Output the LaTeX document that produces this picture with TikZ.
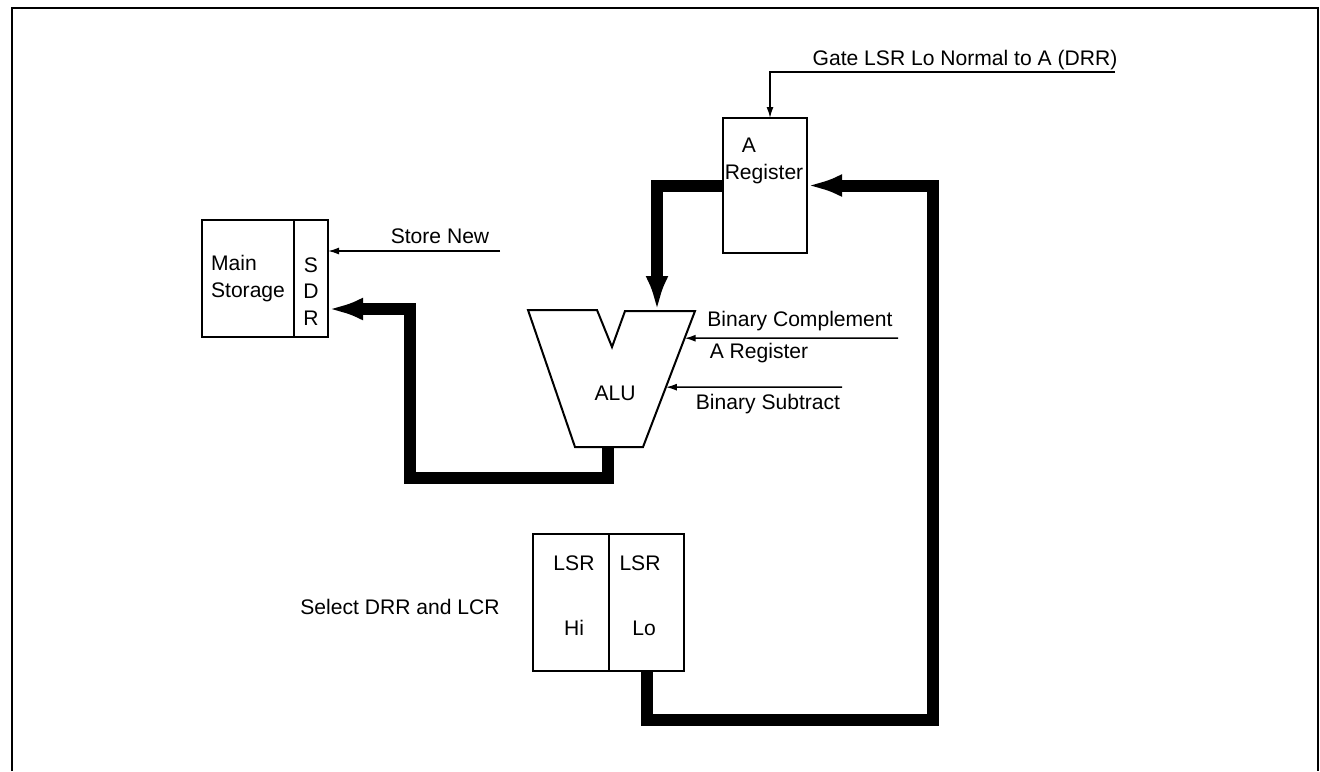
\documentclass[tikz,border=0pt]{standalone}
\usepackage{fontspec}
\setmainfont{Liberation Sans}
\usetikzlibrary{arrows.meta,calc}

\begin{document}
\begin{tikzpicture}[x=0.2mm, y=-0.2mm, font=\fontsize{12}{15}\selectfont,
  box/.style={draw, line width=0.4mm, inner sep=0pt, outer sep=0pt},
  sig/.style={line width=0.3mm, -{Latex[length=2.2mm,width=1.4mm]}},
  bus/.style={line width=2.4mm, line join=miter, -{Latex[length=7mm,width=4.6mm]}}]
\useasboundingbox (0,0) rectangle (1320,771);
\draw[line width=0.4mm] (12,771) -- (12,8) -- (1318,8) -- (1318,771);
% storage and its data register
\node[box, minimum width=18.4mm, minimum height=23.4mm, align=left] (ms) at (248,278.5) {Main\\Storage};
\node[box, minimum width=6.8mm, minimum height=23.4mm] (sdr) at (311,278.5) {};
\node[align=center] (sdrlbl) at (311,291.5) {S\\D\\R};
% A register
\node[box, minimum width=16.8mm, minimum height=27mm] (areg) at (765,185.5) {};
\node[align=left] (areglbl) at (764,161) {\hspace*{3.4mm}A\\Register};
% local storage registers
\node[box, minimum width=15.2mm, minimum height=27.4mm] (hi) at (571,602.5) {};
\node[box, minimum width=15mm, minimum height=27.4mm] (lo) at (646.5,602.5) {};
\node[align=center] (hilbl) at (574,595.5) {LSR\\[7.7mm]Hi};
\node[align=center] (lolbl) at (640,595.5) {LSR\\[7.7mm]\hspace*{1.6mm}Lo};
\node (sellbl) at (400,607) {Select DRR and LCR};
% ALU outline
\coordinate (alutl) at (528,310);
\coordinate (alutr) at (695,311);
\coordinate (alubr) at (643,447);
\coordinate (alubl) at (575,447);
\draw[line width=0.4mm] (alutl) -- (597,310) -- (612,347) -- (625,311) -- (alutr) -- (alubr) -- (alubl) -- cycle;
\node (alu) at (615,393) {ALU};
\coordinate (aluin) at (657,311);
\coordinate (aluout) at (608,447);
% data paths
\draw[bus] (areg.west) -| (aluin);
\coordinate (aluloop) at (410,478);
\draw[bus] (aluout) |- (aluloop) |- ([yshift=-6.1mm]sdr.east);
\coordinate (loop) at (933,720);
\draw[bus] (lo.south) |- (loop) |- (areg.east);
% control lines
\coordinate (gate) at (1115,72);
\node (gatelbl) at (965,60) {Gate LSR Lo Normal to A (DRR)};
\draw[sig] (gate) -| ([xshift=1mm]areg.north);
\coordinate (store) at (500,251);
\node (storelbl) at (440,236) {Store New};
\draw[sig] (store) -- (store -| sdr.east);
\coordinate (bcin) at (898,338.2);
\node (bclbl) at (800,321) {Binary Complement};
\node (arlbl) at (759,353) {A Register};
\draw[sig] (bcin) -- ($(alutr)!0.2!(alubr)$);
\coordinate (bsin) at (842,387.2);
\node (bslbl) at (768,404) {Binary Subtract};
\draw[sig] (bsin) -- ($(alutr)!0.56!(alubr)$);
\end{tikzpicture}
\end{document}
